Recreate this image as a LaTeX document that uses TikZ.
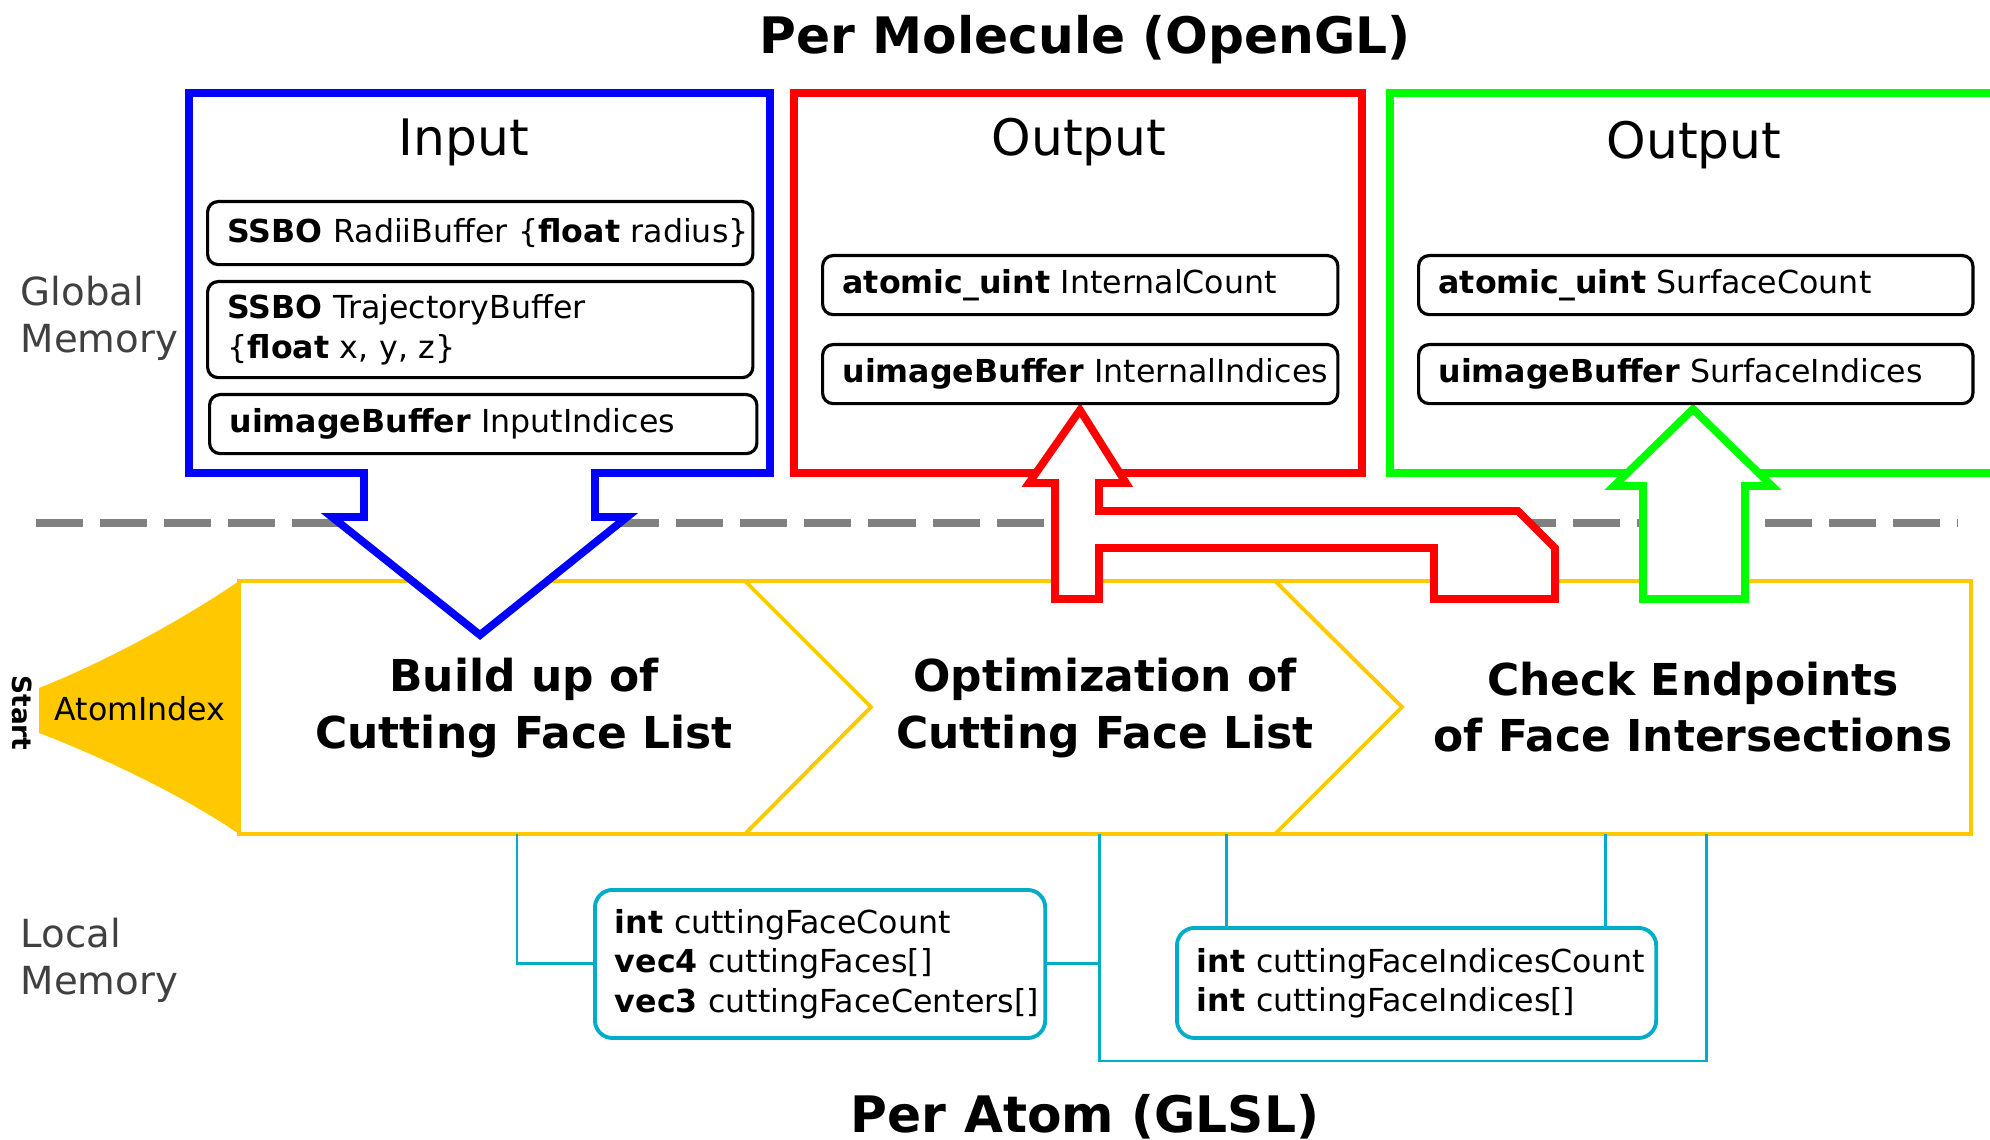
\documentclass[tikz,border=0pt]{standalone}
\usepackage{fontspec}
\setmainfont{DejaVu Sans}

\definecolor{stepyellow}{RGB}{255,200,0}
\definecolor{loccyan}{RGB}{0,172,200}
\definecolor{labelgray}{RGB}{64,64,64}

\tikzset{
  membox/.style={line width=2.2pt, line join=miter},
  varbox/.style={draw=black, line width=0.9pt, rounded corners=3pt, align=left,
    inner xsep=0.2cm, anchor=north west, font=\fontsize{9}{11.2}\selectfont,
    execute at begin node={\rightskip=-0.2cm plus 1fil}},
  locbox/.style={draw=loccyan, line width=1.1pt, rounded corners=5pt, align=left,
    inner xsep=0.2cm, anchor=north west, font=\fontsize{9}{11.2}\selectfont,
    execute at begin node={\rightskip=-0.2cm plus 1fil}},
  stepline/.style={draw=stepyellow, line width=1.1pt},
  steptext/.style={align=center, font=\fontsize{12.5}{16}\selectfont\bfseries},
  link/.style={draw=loccyan, line width=0.85pt},
  memlabel/.style={align=left, anchor=west, inner sep=0pt, text=labelgray,
    font=\fontsize{11}{13.3}\selectfont},
  boxtitle/.style={font=\fontsize{14.3}{17}\selectfont},
  bigtitle/.style={font=\fontsize{14.3}{17}\selectfont\bfseries}
}

\begin{document}
\begin{tikzpicture}[x=0.01cm, y=-0.01cm]
    \useasboundingbox (0,0) rectangle (1990,1140);

    %% border between global and local memory
    \draw[gray, line width=2pt, dash pattern=on 0.47cm off 0.17cm] (36,523) -- (1958,523);

    %% the per atom pipeline
    \fill[stepyellow] (39,688) .. controls (110,660) and (190,615) .. (239,581)
        -- (239,834) .. controls (190,800) and (110,760) .. (39,733) -- cycle;
    \draw[stepline] (239,581) rectangle (1971,834);
    \draw[stepline] (745,581) -- (871,707) -- (745,834);
    \draw[stepline] (1275,581) -- (1402,707) -- (1275,834);

    \node (start) [rotate=-90, font=\fontsize{7.5}{9}\selectfont\bfseries] at (22,713) {Start};
    \node (atom) [font=\fontsize{9}{11}\selectfont] at (140,709) {AtomIndex};
    \node (build) [steptext] at (524,708) {Build up of\\Cutting Face List};
    \node (optim) [steptext] at (1105,708) {Optimization of\\Cutting Face List};
    \node (check) [steptext] at (1693,707) {Check Endpoints\\of Face Intersections};

    %% local memory
    \node (loc1) [locbox, text width=4.1cm, minimum height=1.48cm] at (593,888)
        {\textbf{int} cuttingFaceCount\\\textbf{vec4} cuttingFaces[]\\\textbf{vec3} cuttingFaceCenters[]};
    \node (loc2) [locbox, text width=4.39cm, minimum height=1.1cm] at (1175,926)
        {\textbf{int} cuttingFaceIndicesCount\\\textbf{int} cuttingFaceIndices[]};

    \coordinate (l1) at (517,834);
    \coordinate (l2) at (1099,834);
    \coordinate (l3) at (1226,834);
    \coordinate (l4) at (1605,834);
    \coordinate (l5) at (1706,834);
    \draw[link] (l1) |- (loc1.west);
    \draw[link] (loc1.east) -- (loc1.east -| l2);
    \draw[link] (l2) -- ++(0,227) -| (l5);
    \draw[link] (l3) -- (l3 |- loc2.north);
    \draw[link] (l4) -- (l4 |- loc2.north);

    %% global memory boxes with their arrows
    \filldraw[membox, draw=blue, fill=white] (364,473) -- (189,473) -- (189,93) -- (770,93)
        -- (770,473) -- (595,473) -- (595,517) -- (627,517) -- (480,635)
        -- (332,517) -- (364,517) -- cycle;
    \draw[membox, draw=red] (794,93) rectangle (1362,473);
    \draw[membox, draw=green] (2100,473) -- (1390,473) -- (1390,93) -- (2100,93);

    \filldraw[membox, draw=red, fill=white] (1080,410) -- (1126,483) -- (1099,483)
        -- (1099,511) -- (1518,511) -- (1555,548) -- (1555,599) -- (1434,599)
        -- (1434,548) -- (1099,548) -- (1099,599) -- (1055,599) -- (1055,483)
        -- (1029,483) -- cycle;
    \filldraw[membox, draw=green, fill=white] (1693,409) -- (1772,486) -- (1745,486)
        -- (1745,599) -- (1643,599) -- (1643,486) -- (1614,486) -- cycle;

    \node (inlab) [boxtitle] at (464,142) {Input};
    \node (outlab1) [boxtitle] at (1079,142) {Output};
    \node (outlab2) [boxtitle] at (1694,145) {Output};

    \node (radii) [varbox, text width=5.05cm, minimum height=0.63cm] at (206,200)
        {\textbf{SSBO} RadiiBuffer \{\textbf{float} radius\}};
    \node (traj) [varbox, text width=5.05cm, minimum height=0.96cm] at (206,280)
        {\textbf{SSBO} TrajectoryBuffer\\\{\textbf{float} x, y, z\}};
    \node (inidx) [varbox, text width=5.07cm, minimum height=0.59cm] at (208,393)
        {\textbf{uimageBuffer} InputIndices};

    \node (intcount) [varbox, text width=4.75cm, minimum height=0.59cm] at (821,254)
        {\textbf{atomic\_uint} InternalCount};
    \node (intidx) [varbox, text width=4.75cm, minimum height=0.59cm] at (821,343)
        {\textbf{uimageBuffer} InternalIndices};

    \node (surfcount) [varbox, text width=5.14cm, minimum height=0.59cm] at (1417,254)
        {\textbf{atomic\_uint} SurfaceCount};
    \node (surfidx) [varbox, text width=5.14cm, minimum height=0.59cm] at (1417,343)
        {\textbf{uimageBuffer} SurfaceIndices};

    %% labels
    \node (globlab) [memlabel] at (20,318) {Global\\Memory};
    \node (loclab) [memlabel] at (20,960) {Local\\Memory};
    \node (toptitle) [bigtitle] at (1085,40) {Per Molecule (OpenGL)};
    \node (bottitle) [bigtitle] at (1085,1117) {Per Atom (GLSL)};
\end{tikzpicture}
\end{document}
